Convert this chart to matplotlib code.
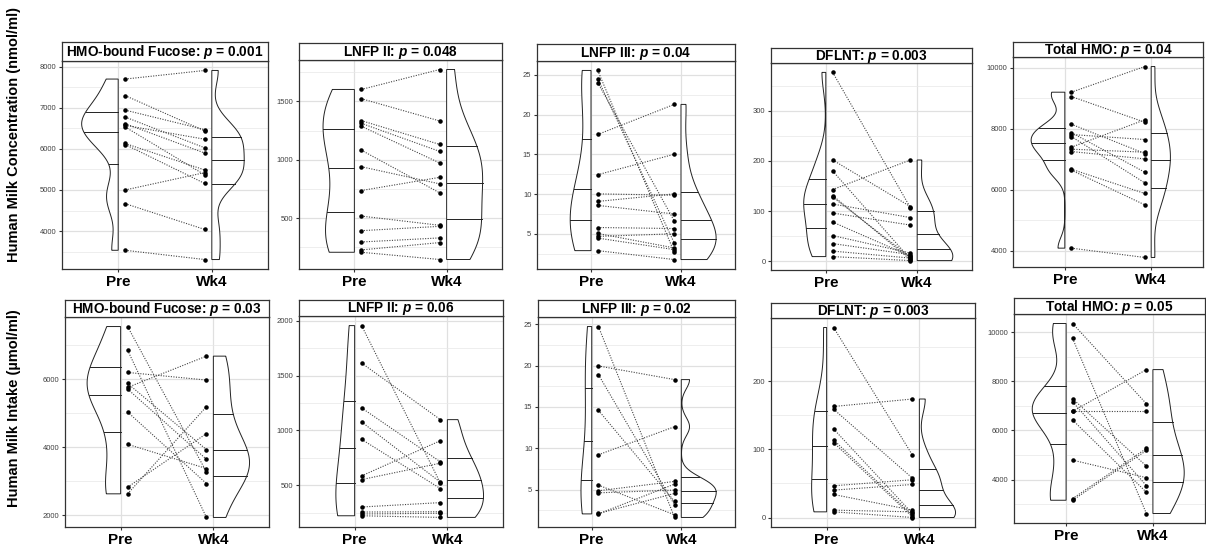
import numpy as np
import matplotlib
matplotlib.use("Agg")
import matplotlib.pyplot as plt
from matplotlib.ticker import MultipleLocator

# -------------------------------
# Data (paired: same index = same subject)
# -------------------------------
groups = ["Pre", "Wk4"]

# row 1: concentration (nmol/ml)
fuc_conc_pre = [7695, 7293, 6940, 6771, 6610, 6570, 6530, 6129, 6104, 5000, 4667, 3534]
fuc_conc_wk4 = [7904, 6433, 6466, 6024, 5896, 6233, 5365, 5486, 5157, 5422, 4040, 3309]

lnfp2_conc_pre = [1602, 1523, 1335, 1312, 1287, 1082, 940, 736, 517, 392, 295, 227, 207]
lnfp2_conc_wk4 = [1773, 1332, 1131, 1071, 972, 716, 793, 849, 438, 429, 330, 290, 145]

lnfp3_conc_pre = [25.54, 24.50, 24.00, 17.49, 12.43, 10.02, 9.07, 8.57, 5.79, 5.04, 4.67, 4.46, 2.88]
lnfp3_conc_wk4 = [2.68, 3.84, 6.62, 21.27, 15.0, 9.85, 10.02, 7.49, 5.66, 3.22, 5.0, 3.01, 1.76]

dflnt_conc_pre = [377, 202, 180, 143, 131, 128, 114, 96, 78, 51, 35, 20, 9]
dflnt_conc_wk4 = [107, 109, 4, 202, 3, 8, 87, 72, 10, 16, 13, 6, 1]

total_conc_pre = [9193, 9051, 8145, 7872, 7807, 7741, 7392, 7327, 7250, 6672, 6640, 4086]
total_conc_wk4 = [10033, 8211, 7185, 6574, 7643, 6225, 8287, 7229, 7010, 5876, 5505, 3781]

# row 2: intake
fuc_int_pre = [7541, 6849, 6195, 5873, 5756, 5707, 5034, 4088, 2829, 2634]
fuc_int_wk4 = [3278, 1941, 5971, 3932, 6673, 3649, 2937, 3376, 4400, 5190]

lnfp2_int_pre = [1957, 1615, 1206, 1078, 919, 586, 552, 302, 256, 238, 222]
lnfp2_int_wk4 = [520, 1099, 714, 528, 470, 907, 702, 342, 259, 245, 207]

lnfp3_int_pre = [24.72, 19.95, 18.90, 14.58, 9.21, 5.53, 4.85, 4.60, 2.10, 2.05]
lnfp3_int_wk4 = [1.62, 18.30, 3.15, 3.56, 12.60, 1.94, 5.98, 4.93, 4.53, 5.66]

dflnt_int_pre = [279, 163, 159, 130, 114, 110, 46.6, 40.2, 33.8, 10.8, 8.3]
dflnt_int_wk4 = [91.7, 174, 57.8, 5.9, 3.4, 1.0, 55.4, 48.5, 10.8, 8.3, 0.0]

total_int_pre = [10351, 9744, 7289, 7168, 6804, 6777, 6426, 4794, 3230, 3162]
total_int_wk4 = [7087, 2623, 4552, 3756, 6804, 8476, 3486, 4080, 5267, 5186]

titles = ["HMO-bound Fucose", "LNFP II", "LNFP III", "DFLNT", "Total HMO"]
pvals_conc = ["0.001", "0.048", "0.04", "0.003", "0.04"]
pvals_int = ["0.03", "0.06", "0.02", "0.003", "0.05"]
steps = [1000, 500, 5, 100, 2000, 2000, 500, 5, 100, 2000]

# -------------------------------
# Style
# -------------------------------
plt.rcParams['font.family'] = ['Liberation Sans', 'DejaVu Sans']
plt.rcParams['mathtext.fontset'] = 'custom'
plt.rcParams['mathtext.it'] = 'Liberation Sans:italic:bold'
plt.rcParams['mathtext.rm'] = 'Liberation Sans:bold'

W, H = 1206, 546
fig = plt.figure(figsize=(W / 100, H / 100), dpi=100)

# panel boxes in pixels: left, right, strip top, strip bottom, plot bottom
boxes = [
    (62, 268, 42, 61, 269), (299, 502, 43, 60, 269), (537, 735, 44, 61, 269),
    (771, 972, 48, 63, 270), (1013, 1203, 42, 57, 267),
    (65, 269, 300, 317, 527), (299, 503, 300, 316, 527), (538, 735, 300, 317, 527),
    (771, 975, 303, 318, 527), (1014, 1205, 298, 314, 523),
]


def rect(l, r, t, b):
    return [l / W, 1 - b / H, (r - l) / W, (b - t) / H]


def kde(vals, n=512):
    # gaussian density, bw.nrd0, trimmed to data range (like ggplot violins)
    v = np.asarray(vals, float)
    q75, q25 = np.percentile(v, [75, 25])
    lo = min(v.std(ddof=1), (q75 - q25) / 1.34)
    bw = 0.9 * lo * len(v) ** -0.2
    ys = np.linspace(v.min(), v.max(), n)
    d = np.exp(-0.5 * ((ys[:, None] - v[None, :]) / bw) ** 2).sum(1)
    d = d / (len(v) * bw * np.sqrt(2 * np.pi))
    return ys, d


def draw_panel(bx, title, p, pre, wk4, step):
    l, r, st, sb, pb = bx
    ax = fig.add_axes(rect(l, r, sb, pb))
    sax = fig.add_axes(rect(l, r, st, sb))
    sax.set_xticks([])
    sax.set_yticks([])
    for s in sax.spines.values():
        s.set_color("#333333")
        s.set_linewidth(0.9)
    sax.text(0.5, 0.45, f"{title}: $p$ = {p}", ha="center", va="center",
             fontsize=9.8, fontweight="bold", transform=sax.transAxes)

    half = 0.39
    dens = [kde(pre), kde(wk4)]
    m = max(dens[0][1].max(), dens[1][1].max())
    for i, (ys, d) in enumerate(dens):
        x0 = i + 1
        sgn = -1 if i == 0 else 1
        w = d / m * half
        px = np.r_[x0, x0 + sgn * w, x0]
        py = np.r_[ys[0], ys, ys[-1]]
        ax.fill(px, py, facecolor="white", edgecolor="#222222", lw=0.7, zorder=2)
        cdf = np.cumsum(d) / d.sum()
        for q in [0.25, 0.5, 0.75]:
            yq = np.interp(q, cdf, ys)
            wq = np.interp(yq, ys, d) / m * half
            ax.plot([x0, x0 + sgn * wq], [yq, yq], color="#222222", lw=0.7, zorder=3)

    off = 0.075
    for a, b in zip(pre, wk4):
        ax.plot([1 + off, 2 - off], [a, b], color="#444444", lw=0.8,
                ls=(0, (1, 1.3)), zorder=3)
    ax.scatter([1 + off] * len(pre), pre, s=5, color="black", zorder=4)
    ax.scatter([2 - off] * len(wk4), wk4, s=5, color="black", zorder=4)

    allv = list(pre) + list(wk4)
    lo, hi = min(allv), max(allv)
    pad = 0.05 * (hi - lo)
    ax.set_ylim(lo - pad, hi + pad)
    ax.set_xlim(0.4, 2.6)
    ax.set_xticks([1, 2])
    ax.set_xticklabels(groups, fontsize=11, fontweight="bold")
    ax.yaxis.set_major_locator(MultipleLocator(step))
    ax.yaxis.set_minor_locator(MultipleLocator(step / 2))
    ax.grid(which="major", color="#e0e0e0", lw=0.9)
    ax.grid(which="minor", axis="y", color="#e8e8e8", lw=0.5)
    ax.set_axisbelow(True)
    for s in ax.spines.values():
        s.set_color("#333333")
        s.set_linewidth(0.9)
    ax.tick_params(axis="y", which="major", length=2.5, color="#333333",
                   labelsize=5.5, labelcolor="#404040", pad=1.5)
    ax.tick_params(axis="x", length=2.5, color="#333333", pad=1.5)
    ax.tick_params(which="minor", length=0)


conc = [(fuc_conc_pre, fuc_conc_wk4), (lnfp2_conc_pre, lnfp2_conc_wk4),
        (lnfp3_conc_pre, lnfp3_conc_wk4), (dflnt_conc_pre, dflnt_conc_wk4),
        (total_conc_pre, total_conc_wk4)]
intake = [(fuc_int_pre, fuc_int_wk4), (lnfp2_int_pre, lnfp2_int_wk4),
          (lnfp3_int_pre, lnfp3_int_wk4), (dflnt_int_pre, dflnt_int_wk4),
          (total_int_pre, total_int_wk4)]

for k in range(5):
    draw_panel(boxes[k], titles[k], pvals_conc[k], conc[k][0], conc[k][1], steps[k])
    draw_panel(boxes[k + 5], titles[k], pvals_int[k], intake[k][0], intake[k][1], steps[k + 5])

fig.text(14 / W, 1 - 135 / H, "Human Milk Concentration (nmol/ml)", rotation=90,
         ha="center", va="center", fontsize=10.5, fontweight="bold")
fig.text(14 / W, 1 - 408 / H, "Human Milk Intake (\u00b5mol/ml)", rotation=90,
         ha="center", va="center", fontsize=10.5, fontweight="bold")

fig.savefig("out.png", dpi=100)
